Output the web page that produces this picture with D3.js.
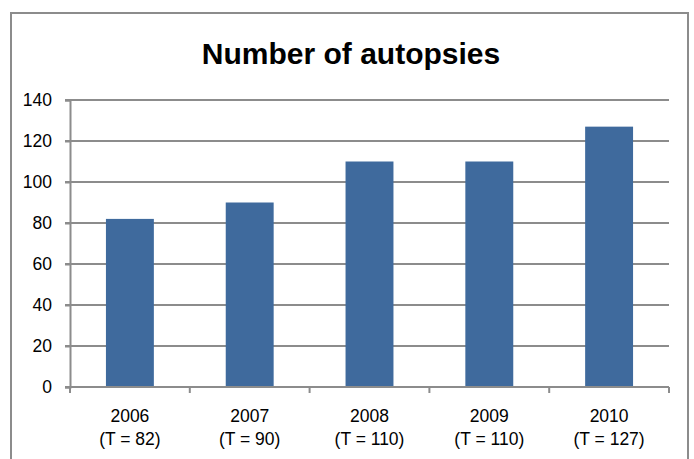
<!DOCTYPE html>
<html><head><meta charset="utf-8">
<script src="https://cdn.jsdelivr.net/npm/d3@7"></script>
<style>body{margin:0;background:#fff}svg{display:block}</style>
</head><body>
<script>
const years = ["2006","2007","2008","2009","2010"];
const totals = ["(T = 82)","(T = 90)","(T = 110)","(T = 110)","(T = 127)"];
const values = [82, 90, 110, 110, 127];
const yTicks = [0,20,40,60,80,100,120,140];
const title = "Number of autopsies";

const W=694,H=459;
const svg=d3.select("body").append("svg").attr("width",W).attr("height",H);
const font="'Liberation Sans Narrow','Arial Narrow','Liberation Sans',sans-serif";
svg.append("rect").attr("x",11).attr("y",13).attr("width",677).attr("height",460)
  .attr("fill","#fff").attr("stroke","#8c8c8c").attr("stroke-width",2);

const m={l:70,r:669,t:100,b:387};
const x=d3.scaleBand().domain(years).range([m.l,m.r]).paddingInner(0.6).paddingOuter(0.3);
const xb=d3.scaleBand().domain(years).range([m.l,m.r]);
const y=d3.scaleLinear().domain([0,140]).range([m.b,m.t]);

svg.append("text").attr("x",351).attr("y",64).attr("text-anchor","middle")
  .attr("font-family",font).attr("font-weight","bold").attr("font-size",30).text(title);

// gridlines
svg.append("g").selectAll("line").data(yTicks.filter(d=>d>0)).join("line")
  .attr("x1",m.l-5).attr("x2",m.r).attr("y1",d=>y(d)).attr("y2",d=>y(d))
  .attr("stroke","#8c8c8c").attr("stroke-width",2);

// y axis
const ya=svg.append("g").attr("transform",`translate(${m.l},0)`)
  .call(d3.axisLeft(y).tickValues(yTicks).tickSize(5).tickPadding(13));
ya.select(".domain").attr("stroke","#8c8c8c").attr("stroke-width",2);
ya.selectAll(".tick line").attr("stroke","#8c8c8c").attr("stroke-width",2);
ya.selectAll("text").attr("font-family",font).attr("font-size",17.5).attr("fill","#000");

// bars
svg.append("g").selectAll("rect").data(values).join("rect")
  .attr("x",(d,i)=>x(years[i])).attr("width",x.bandwidth())
  .attr("y",d=>y(d)).attr("height",d=>y(0)-y(d)).attr("fill","#3F6A9D");

// x axis
const boundaries=years.map(d=>xb(d)).concat([m.r]);
svg.append("line").attr("x1",m.l-5).attr("x2",m.r).attr("y1",m.b).attr("y2",m.b)
  .attr("stroke","#8c8c8c").attr("stroke-width",2);
svg.append("g").selectAll("line").data(boundaries).join("line")
  .attr("x1",d=>d).attr("x2",d=>d).attr("y1",m.b).attr("y2",m.b+6)
  .attr("stroke","#8c8c8c").attr("stroke-width",2);
const xl=svg.append("g").selectAll("text").data(years).join("text")
  .attr("x",d=>xb(d)+xb.bandwidth()/2).attr("y",422).attr("text-anchor","middle")
  .attr("font-family",font).attr("font-size",17.5);
xl.append("tspan").text(d=>d);
xl.append("tspan").attr("x",d=>xb(d)+xb.bandwidth()/2).attr("dy",23).text((d,i)=>totals[i]);
</script>
</body></html>
